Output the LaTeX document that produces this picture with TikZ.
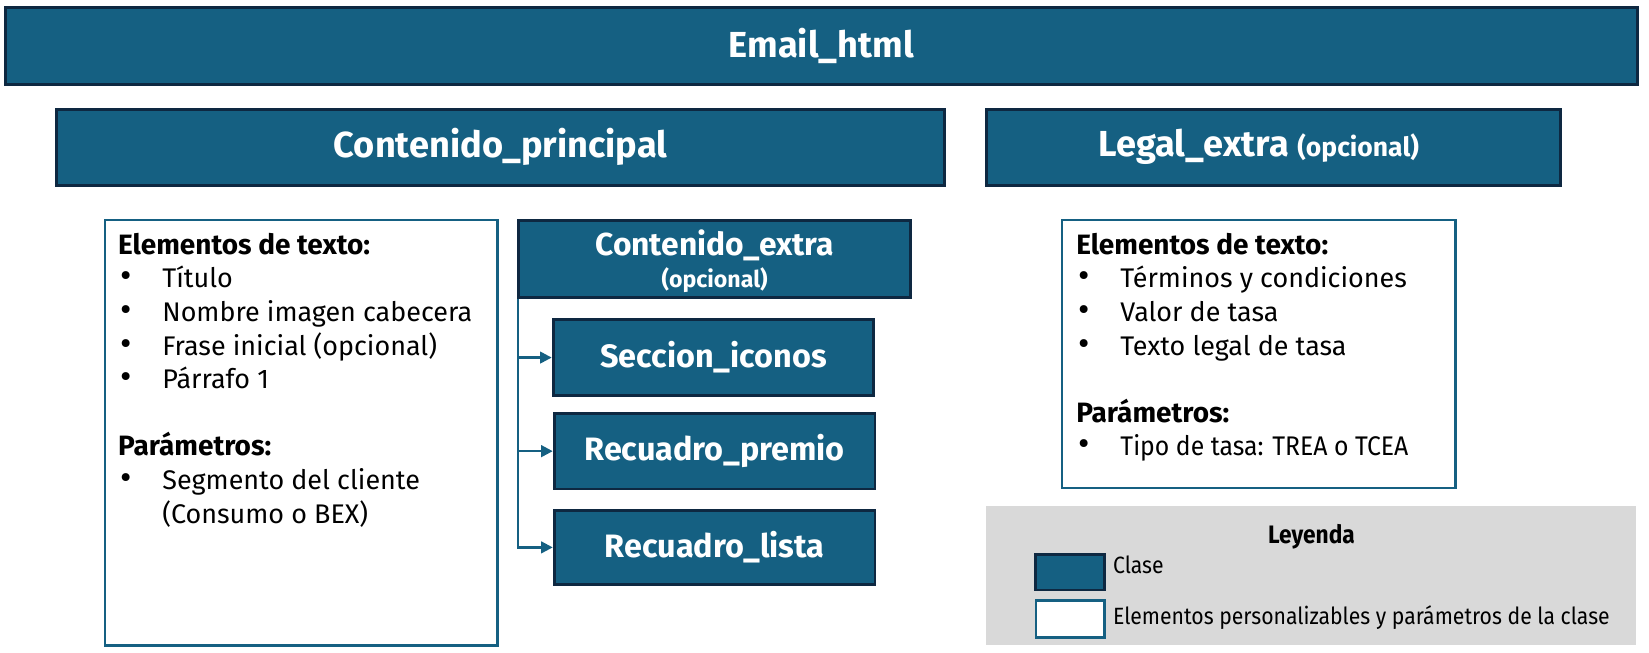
\documentclass[tikz,border=0pt]{standalone}
\usepackage{fontspec}
\setmainfont{Fira Sans}
\newfontfamily\narrowfont[FakeStretch=0.9]{Fira Sans}
\usetikzlibrary{arrows.meta}
\definecolor{cfill}{HTML}{156082}
\definecolor{cborder}{HTML}{0E2841}
\definecolor{lgray}{HTML}{D9D9D9}
\tikzset{
  cls/.style={draw=cborder, fill=cfill, line width=1.4pt, inner sep=0pt, text=white, font=\bfseries},
  attrbox/.style={draw=cfill, fill=white, line width=1.2pt, inner sep=0pt},
  bodytext/.style={anchor=north west, inner sep=0pt, align=left, font=\fontsize{12.8}{16}\selectfont},
  conn/.style={draw=cfill, line width=1.1pt, -{Triangle[length=5.5pt,width=5.5pt]}},
  legtxt/.style={anchor=west, inner sep=0pt, font=\narrowfont\fontsize{11.2}{13}\selectfont}
}
\newcommand{\bul}{\makebox[21pt][l]{\hspace*{1pt}\scalebox{1.3}{•}}}
\newcommand{\hd}[1]{{\bfseries\fontsize{13.3}{16}\selectfont #1}}
\begin{document}
\begin{tikzpicture}[x=0.5pt,y=-0.5pt]
\useasboundingbox (0,0) rectangle (1568,620);
% top class
\node[cls, minimum width=776pt, minimum height=36.5pt, font=\bfseries\fontsize{17.2}{20}\selectfont] (email) at (781,43.5) {Email\_html};
\node[cls, minimum width=422pt, minimum height=36pt] (cp) at (476,140) {};
\node[text=white, inner sep=0pt, font=\bfseries\fontsize{17.2}{20}\selectfont] (cptxt) at (476,140) {Contenido\_principal};
\node[cls, minimum width=273pt, minimum height=36pt] (le) at (1211,140) {};
\node[text=white, inner sep=0pt] (letxt) at (1197,140) {\bfseries\fontsize{17.2}{20}\selectfont Legal\_extra \fontsize{12.6}{14}\selectfont(opcional)};
% left attribute box
\node[attrbox, minimum width=186.5pt, minimum height=202.5pt] (lbox) at (286.5,411.5) {};
\node[bodytext] (ltxt) at (112,221) {\hd{Elementos de texto:}\\
\bul Título\\
\bul Nombre imagen cabecera\\
\bul Frase inicial (opcional)\\
\bul Párrafo 1\\
\mbox{}\\
\hd{Parámetros:}\\
\bul Segmento del cliente\\
\hspace*{21pt}(Consumo o BEX)};
% contenido extra
\node[cls, minimum width=186.5pt, minimum height=36.5pt] (ce) at (679.5,246.5) {};
\node[text=white, inner sep=0pt, font=\bfseries\fontsize{15.1}{17}\selectfont] (cetxt) at (679.5,233) {Contenido\_extra};
\node[text=white, inner sep=0pt, font=\bfseries\fontsize{11}{13}\selectfont] (ceopt) at (679.5,266) {(opcional)};
\node[cls, minimum width=152.5pt, minimum height=36pt, font=\bfseries\fontsize{15.4}{17}\selectfont] (si) at (678.5,340) {Seccion\_iconos};
\node[cls, minimum width=152.5pt, minimum height=36pt, font=\bfseries\fontsize{15.4}{17}\selectfont] (rp) at (679.5,429) {Recuadro\_premio};
\node[cls, minimum width=152.5pt, minimum height=35.5pt, font=\bfseries\fontsize{15.4}{17}\selectfont] (rl) at (679.5,520.5) {Recuadro\_lista};
\draw[conn] ([xshift=0.6pt]ce.south west) |- (si.west);
\draw[conn] ([xshift=0.6pt]ce.south west) |- (rp.west);
\draw[conn] ([xshift=0.6pt]ce.south west) |- (rl.west);
% right attribute box
\node[attrbox, minimum width=187pt, minimum height=127.5pt] (rbox) at (1197,336.5) {};
\node[bodytext] (rtxt) at (1023,221) {\hd{Elementos de texto:}\\
\bul Términos y condiciones\\
\bul Valor de tasa\\
\bul Texto legal de tasa\\
\mbox{}\\
\hd{Parámetros:}\\
\bul \scalebox{0.92}[1]{Tipo de tasa: TREA o TCEA}};
% legend
\node[fill=lgray, draw=none, minimum width=309pt, minimum height=66pt, inner sep=0pt] (leg) at (1247,547) {};
\node[inner sep=0pt, font=\narrowfont\bfseries\fontsize{12}{14}\selectfont] (legtitle) at (1247,510) {Leyenda};
\node[cls, minimum width=32.5pt, minimum height=17pt] (legcls) at (1017.5,544) {};
\node[attrbox, minimum width=32.5pt, minimum height=17.5pt] (legattr) at (1017.5,588.5) {};
\node[legtxt] (legclstxt) at (1058,537) {Clase};
\node[legtxt] (legattrtxt) at (1058,587) {Elementos personalizables y parámetros de la clase};
\end{tikzpicture}
\end{document}
